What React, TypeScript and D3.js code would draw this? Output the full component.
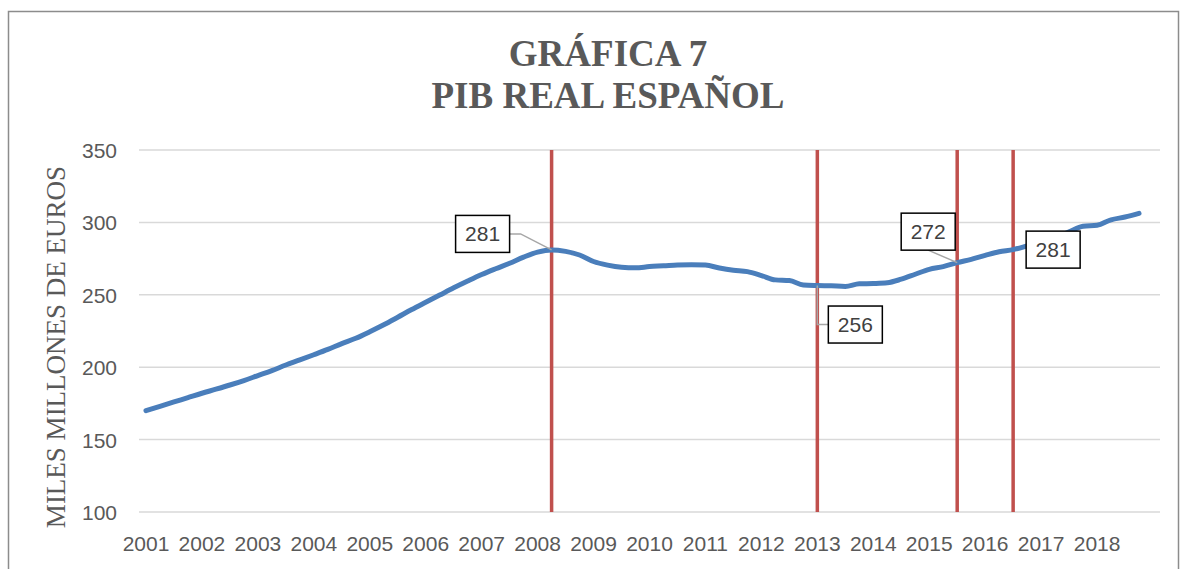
import { useEffect, useRef } from "react";
import * as d3 from "d3";

// quarterly real GDP, 2001Q1 .. 2018Q4 (miles de millones de euros)
const years = d3.range(2001, 2019).map(String);
const quarters = ["T1", "T2", "T3", "T4"];
const pib = [
  170.0, 173.0, 176.0, 179.0,
  182.0, 184.8, 187.7, 190.8,
  194.2, 197.6, 201.5, 205.0,
  208.6, 212.3, 216.3, 220.0,
  224.5, 229.3, 234.5, 239.8,
  244.8, 249.8, 254.8, 259.5,
  264.0, 268.0, 271.8, 276.0,
  279.5, 281.0, 280.0, 277.5,
  273.0, 270.5, 269.0, 268.6,
  269.5, 270.0, 270.6, 270.8,
  270.5, 268.5, 267.0, 266.0,
  263.3, 260.3, 259.8, 256.8,
  256.4, 256.2, 255.8, 257.6,
  257.8, 258.3, 260.8, 264.2,
  267.6, 269.5, 272.2, 274.5,
  277.2, 279.7, 281.2, 283.8,
  286.5, 289.6, 293.5, 297.3,
  298.0, 301.8, 303.7, 306.2,
];
// one spare empty category at the end, as in the original sheet
const categories = [...years.flatMap((y) => quarters.map((q) => `${y} ${q}`)), ""];
const yTicks = [100, 150, 200, 250, 300, 350];
const markers = [29, 48, 58, 62]; // quarters with red vertical lines
const titleLines = ["GRÁFICA 7", "PIB REAL ESPAÑOL"];
const yTitle = "MILES MILLONES DE EUROS";

const W = 1194;
const H = 569;

export default function App() {
  const svgRef = useRef<SVGSVGElement>(null);

  useEffect(() => {
    document.body.style.margin = "0";
    document.body.style.overflow = "hidden";
    if (!svgRef.current) return;

    const svg = d3.select(svgRef.current);
    svg.selectAll("*").remove();

    const plot = { left: 139, right: 1160, top: 150, bottom: 512 };
    const sans = "'Liberation Sans', Arial, sans-serif";
    const serif = "'Liberation Serif', 'Times New Roman', serif";

    const x = d3.scaleBand<string>()
      .domain(categories)
      .range([plot.left, plot.right])
      .padding(0);
    const cx = (i: number) => (x(categories[i]) ?? 0) + x.bandwidth() / 2;

    const y = d3.scaleLinear().domain([100, 350]).range([plot.bottom, plot.top]);

    // frame
    svg.append("rect")
      .attr("x", 8.5).attr("y", 11.5)
      .attr("width", 1170).attr("height", 620)
      .attr("fill", "#fff")
      .attr("stroke", "#8c8c8c").attr("stroke-width", 1.5);

    // title
    svg.append("g").selectAll("text")
      .data(titleLines)
      .join("text")
      .attr("x", 608)
      .attr("y", (_, i) => 66 + i * 42)
      .attr("text-anchor", "middle")
      .attr("font-family", serif)
      .attr("font-weight", "bold")
      .attr("font-size", 37)
      .attr("fill", "#595959")
      .text((d) => d);

    // gridlines
    svg.append("g").selectAll("line")
      .data(yTicks)
      .join("line")
      .attr("x1", plot.left).attr("x2", plot.right)
      .attr("y1", (d) => y(d)).attr("y2", (d) => y(d))
      .attr("stroke", "#d9d9d9").attr("stroke-width", 1.5);

    // y axis labels
    const yAxis = svg.append("g")
      .attr("transform", `translate(${plot.left - 22},0)`)
      .call(d3.axisLeft(y).tickValues(yTicks).tickSize(0).tickPadding(0));
    yAxis.select(".domain").remove();
    yAxis.selectAll(".tick text")
      .attr("font-family", sans)
      .attr("font-size", 21)
      .attr("fill", "#595959")
      .attr("dy", "0.36em");

    // x axis labels: one per year, at first quarter
    const xAxis = svg.append("g")
      .attr("transform", `translate(0,${plot.bottom})`)
      .call(
        d3.axisBottom(x)
          .tickValues(categories.filter((c, i) => c !== "" && i % 4 === 0))
          .tickFormat((c) => c.slice(0, 4))
          .tickSize(0)
          .tickPadding(0)
      );
    xAxis.select(".domain").remove();
    xAxis.selectAll(".tick text")
      .attr("font-family", sans)
      .attr("font-size", 21)
      .attr("fill", "#595959")
      .attr("dy", "1.85em");

    // y axis title
    svg.append("text")
      .attr("transform", `translate(65,${(plot.top + plot.bottom) / 2 + 16}) rotate(-90)`)
      .attr("text-anchor", "middle")
      .attr("font-family", serif)
      .attr("font-size", 27)
      .attr("fill", "#595959")
      .text(yTitle);

    // red vertical lines
    svg.append("g").selectAll("line")
      .data(markers)
      .join("line")
      .attr("x1", (i) => cx(i)).attr("x2", (i) => cx(i))
      .attr("y1", plot.top).attr("y2", plot.bottom)
      .attr("stroke", "#c0504d").attr("stroke-width", 3.5);

    // series
    const line = d3.line<number>()
      .x((_, i) => cx(i))
      .y((d) => y(d))
      .curve(d3.curveMonotoneX);
    svg.append("path")
      .datum(pib)
      .attr("d", line)
      .attr("fill", "none")
      .attr("stroke", "#4a7ebb")
      .attr("stroke-width", 5)
      .attr("stroke-linecap", "round")
      .attr("stroke-linejoin", "round");

    // data callouts
    const callouts = [
      { idx: markers[0], dx: -69, dy: -16, leader: "elbowLeft" },
      { idx: markers[1], dx: 38, dy: 39, leader: "elbowDown" },
      { idx: markers[2], dx: -29, dy: -31, leader: "diag" },
      { idx: markers[3], dx: 40, dy: 0, leader: "none" },
    ];
    const bw = 54;
    const bh = 37;
    const cg = svg.append("g");
    callouts.forEach((c) => {
      const px = cx(c.idx);
      const py = y(pib[c.idx]);
      const bx = px + c.dx;
      const by = py + c.dy;
      let pts: [number, number][] = [];
      if (c.leader === "elbowLeft") pts = [[px, py], [bx + bw / 2 + 11, by], [bx + bw / 2, by]];
      if (c.leader === "elbowDown") pts = [[px, py], [px, by], [bx - bw / 2, by]];
      if (c.leader === "diag") pts = [[px, py], [bx, by + bh / 2]];
      if (pts.length) {
        cg.append("path")
          .attr("d", d3.line()(pts))
          .attr("fill", "none")
          .attr("stroke", "#a6a6a6")
          .attr("stroke-width", 1.5);
      }
      cg.append("rect")
        .attr("x", bx - bw / 2).attr("y", by - bh / 2)
        .attr("width", bw).attr("height", bh)
        .attr("fill", "#fff")
        .attr("stroke", "#000").attr("stroke-width", 1.5);
      cg.append("text")
        .attr("x", bx).attr("y", by)
        .attr("dy", "0.36em")
        .attr("text-anchor", "middle")
        .attr("font-family", sans)
        .attr("font-size", 21)
        .attr("fill", "#404040")
        .text(Math.round(pib[c.idx]));
    });
  }, []);

  return <svg ref={svgRef} width={W} height={H} style={{ display: "block" }} />;
}
